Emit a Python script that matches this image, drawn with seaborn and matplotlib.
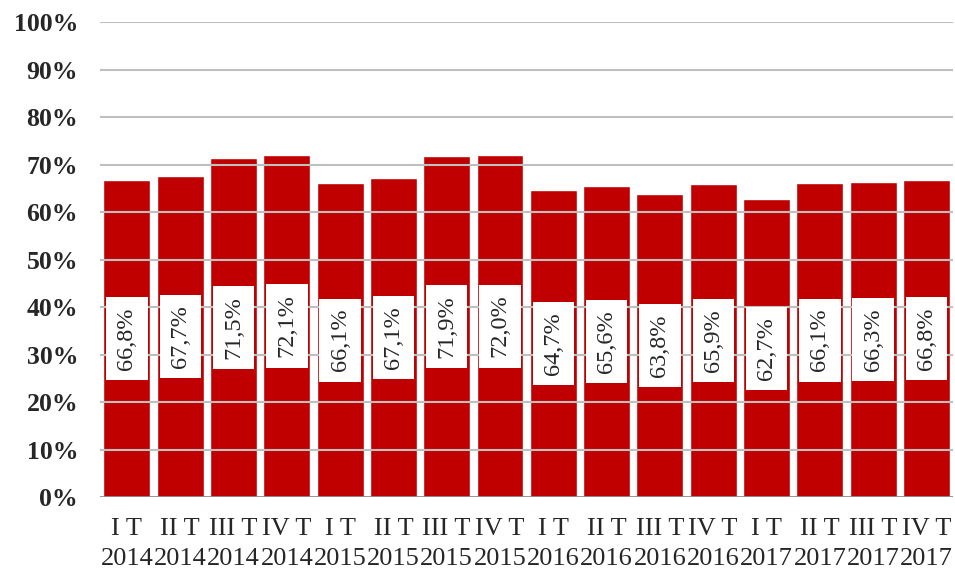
import seaborn as sns
import pandas as pd
import matplotlib.pyplot as plt

quarters = ["I T", "II T", "III T", "IV T"] * 4
years = ["2014"] * 4 + ["2015"] * 4 + ["2016"] * 4 + ["2017"] * 4
values = [66.8, 67.7, 71.5, 72.1, 66.1, 67.1, 71.9, 72.0,
          64.7, 65.6, 63.8, 65.9, 62.7, 66.1, 66.3, 66.8]

labels = [q + "\n" + y for q, y in zip(quarters, years)]
df = pd.DataFrame({"period": labels, "value": values})

sns.set_style("white")
plt.rcParams["font.family"] = ["Liberation Serif", "DejaVu Serif"]

fig = plt.figure(figsize=(9.55, 5.7), dpi=100)
ax = fig.add_axes([0.105, 0.128, 0.893, 0.833])

sns.barplot(x="period", y="value", data=df, color="#C00000", width=0.88,
            saturation=1, ax=ax, zorder=2)

# gridlines drawn over the bars, like the original
for yv in range(10, 101, 10):
    ax.axhline(yv, color="#BFBFBF", lw=1.5, zorder=3)
ax.axhline(0, color="#8C8C8C", lw=2, zorder=4)

# value labels in white boxes at half the bar height
for i, v in enumerate(values):
    ax.text(i, v / 2, f"{v:.1f}%".replace(".", ","), rotation=90,
            ha="center", va="center", fontsize=17.5, zorder=5,
            bbox=dict(boxstyle="square,pad=0.42", fc="white", ec="none"))

ax.set_ylim(0, 100)
ax.set_xlim(-0.5, len(values) - 0.5)
ax.set_yticks(range(0, 101, 10))
ax.set_yticklabels([f"{t}%" for t in range(0, 101, 10)], fontsize=18.5,
                   fontweight="bold")
ax.tick_params(axis="x", labelsize=19, pad=15, length=0)
ax.tick_params(axis="y", length=0, pad=16)
for lbl in ax.get_xticklabels():
    lbl.set_linespacing(1.45)
ax.set_xlabel("")
ax.set_ylabel("")
sns.despine(ax=ax, left=True, bottom=True)

fig.savefig("out.png", dpi=100)
